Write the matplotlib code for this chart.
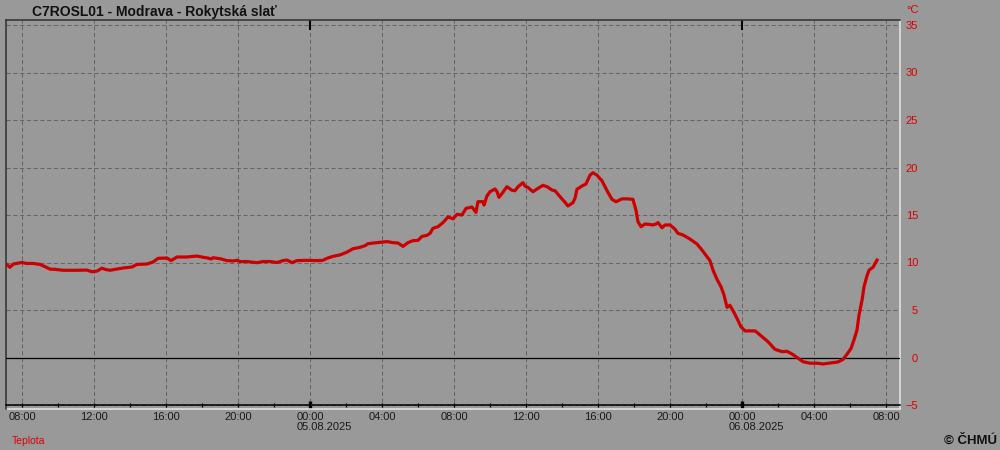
import matplotlib
matplotlib.use("Agg")
import matplotlib.pyplot as plt

plt.rcParams['font.family'] = ['Liberation Sans', 'DejaVu Sans']

# hodiny od 04.08.2025 00:00, teplota ve °C
hours = [7.18, 7.33, 7.52, 7.98, 8.26, 8.61, 9.0, 9.28, 9.56, 9.83, 10.28, 11.06,
         11.61, 11.89, 12.17, 12.44, 12.61, 12.89, 13.17, 13.61, 14.11, 14.39, 14.94,
         15.28, 15.56, 16.06, 16.28, 16.61, 17.17, 17.72, 18.06, 18.33, 18.5, 18.61,
         19.0, 19.39, 19.72, 19.94, 20.11, 20.5, 21.06, 21.39, 21.78, 22.17, 22.5,
         22.72, 23.0, 23.28, 23.83, 24.39, 24.72, 24.94, 25.28, 25.67, 26.06, 26.39,
         26.78, 27.06, 27.22, 27.72, 28.28, 28.61, 28.89, 29.17, 29.44, 29.72, 30.0,
         30.22, 30.5, 30.67, 30.83, 31.11, 31.39, 31.67, 31.94, 32.17, 32.44, 32.67,
         33.0, 33.22, 33.33, 33.61, 33.67, 33.83, 34.0, 34.28, 34.39, 34.5, 34.72,
         34.94, 35.22, 35.39, 35.56, 35.83, 35.94, 36.11, 36.39, 36.61, 36.94, 37.17,
         37.44, 37.61, 37.89, 38.17, 38.33, 38.61, 38.72, 38.83, 39.11, 39.33, 39.56,
         39.72, 39.94, 40.22, 40.39, 40.56, 40.78, 41.0, 41.33, 41.61, 41.94, 42.11,
         42.22, 42.39, 42.61, 42.89, 43.06, 43.28, 43.33, 43.56, 43.72, 44.0, 44.28,
         44.44, 44.72, 45.11, 45.5, 45.78, 46.06, 46.22, 46.39, 46.61, 46.83, 47.0,
         47.17, 47.33, 47.56, 47.72, 47.94, 48.17, 48.72, 48.83, 49.11, 49.44, 49.83,
         50.22, 50.5, 50.78, 51.06, 51.39, 51.78, 52.17, 52.5, 52.89, 53.33, 53.61,
         53.83, 54.06, 54.22, 54.39, 54.5, 54.67, 54.78, 54.94, 55.06, 55.28, 55.5]
temps = [9.74, 9.5, 9.84, 10.0, 9.9, 9.9, 9.8, 9.56, 9.3, 9.28, 9.18, 9.18,
         9.2, 9.03, 9.1, 9.4, 9.28, 9.18, 9.28, 9.42, 9.53, 9.8, 9.84,
         10.05, 10.44, 10.47, 10.2, 10.58, 10.58, 10.68, 10.55, 10.47, 10.37, 10.5,
         10.4, 10.2, 10.16, 10.23, 10.1, 10.1, 9.98, 10.1, 10.1, 10.0, 10.2,
         10.26, 9.98, 10.2, 10.23, 10.2, 10.23, 10.44, 10.65, 10.8, 11.1, 11.45,
         11.6, 11.77, 11.98, 12.09, 12.2, 12.09, 12.05, 11.7, 12.09, 12.3, 12.33,
         12.75, 12.86, 13.07, 13.6, 13.77, 14.2, 14.8, 14.6, 15.07, 15.0, 15.7,
         15.84, 15.28, 16.4, 16.4, 16.05, 17.0, 17.45, 17.74, 17.45, 16.86, 17.4,
         17.98, 17.6, 17.56, 17.98, 18.4, 18.05, 17.9, 17.45, 17.74, 18.12, 17.98,
         17.63, 17.56, 16.93, 16.33, 15.95, 16.3, 16.76, 17.7, 18.05, 18.26, 19.2,
         19.45, 19.2, 18.6, 17.98, 17.35, 16.65, 16.4, 16.7, 16.7, 16.65, 15.5,
         14.3, 13.77, 14.05, 14.0, 13.95, 14.1, 14.2, 13.66, 13.95, 13.95, 13.5,
         13.07, 12.9, 12.47, 11.95, 11.3, 10.6, 10.2, 9.2, 8.23, 7.46, 6.58,
         5.28, 5.5, 4.72, 4.12, 3.25, 2.8, 2.8, 2.65, 2.2, 1.67, 0.86,
         0.62, 0.65, 0.37, 0.0, -0.44, -0.6, -0.6, -0.68, -0.58, -0.47, -0.2,
         0.33, 0.96, 1.84, 2.9, 4.47, 6.05, 7.46, 8.58, 9.2, 9.5, 10.26]

station = "C7ROSL01 - Modrava - Rokytská slať"
series_name = "Teplota"
tick_hours = [8, 12, 16, 20, 24, 28, 32, 36, 40, 44, 48, 52, 56]
tick_labels = ["08:00", "12:00", "16:00", "20:00", "00:00", "04:00", "08:00",
               "12:00", "16:00", "20:00", "00:00", "04:00", "08:00"]
minor_hours = [10, 14, 18, 22, 26, 30, 34, 38, 42, 46, 50, 54]
midnights = [24, 48]
dates = ["05.08.2025", "06.08.2025"]
y_ticks = [-5, 0, 5, 10, 15, 20, 25, 30, 35]

BG = "#999999"
RED = "#cc0000"
W, H = 1000, 450

fig = plt.figure(figsize=(10, 4.5), dpi=100, facecolor=BG)
ax = fig.add_axes([6 / W, 1 - 409 / H, (900 - 6) / W, (409 - 20) / H])
ax.set_facecolor(BG)

ax.plot(hours, temps, color=RED, lw=2.3, solid_joinstyle='round', zorder=5)
ax.axhline(0, color='black', lw=0.9, zorder=3)

ax.set_xlim(7.111, 56.778)
ax.set_ylim(-5 - 4 / 9.5, 35 + 5 / 9.5)

ax.set_xticks(tick_hours)
ax.set_xticklabels(tick_labels)
ax.set_xticks(minor_hours, minor=True)
ax.set_yticks(y_ticks)
ax.grid(True, which='major', color='#666666', lw=0.75, linestyle=(0, (4, 2.5)))

for s in ['left', 'top']:
    ax.spines[s].set_color('#383838')
    ax.spines[s].set_linewidth(1.2)
ax.spines['right'].set_color('#e0e0e0')
ax.spines['right'].set_linewidth(1.2)
ax.spines['bottom'].set_position(('data', -5))
ax.spines['bottom'].set_color('black')
ax.spines['bottom'].set_linewidth(1.1)
ax.plot([0, 1], [0, 0], transform=ax.transAxes, color='#e0e0e0', lw=1.2, clip_on=False)

ax.tick_params(axis='x', which='both', direction='inout', length=3.5, width=0.9,
               colors='black', labelsize=8, pad=3, labelcolor='#1a1a1a')
for t, h in zip(ax.xaxis.get_major_ticks(), tick_hours):
    if h in midnights:
        t.tick1line.set_markersize(5.5)
        t.tick1line.set_markeredgewidth(2.4)

ax.yaxis.tick_right()
ax.tick_params(axis='y', length=0, labelsize=8, labelcolor='#dd0000', pad=13)
for lab in ax.get_yticklabels():
    lab.set_horizontalalignment('right')

ax.vlines(midnights, 0.975, 1.0, transform=ax.get_xaxis_transform(), color='black', lw=1.5)

for m, d in zip(midnights, dates):
    ax.annotate(d, xy=(m, 0), xycoords=('data', 'axes fraction'), xytext=(-13, -13),
                textcoords='offset pixels', ha='left', va='top', fontsize=8, color='#1a1a1a')

fig.text(32 / W, 1 - 12 / H, station, fontsize=10, fontweight='bold', color='#111111', va='center')
fig.text(919 / W, 1 - 10 / H, "°C", fontsize=8, color='#dd0000', ha='right', va='center')
fig.text(12 / W, 1 - 441 / H, series_name, fontsize=7.5, color='#dd0000', va='center')
fig.text(997 / W, 1 - 441 / H, "© ČHMÚ", fontsize=9.5, fontweight='bold', color='#111111',
         ha='right', va='center')

fig.savefig("out.png", dpi=100, facecolor=BG)
